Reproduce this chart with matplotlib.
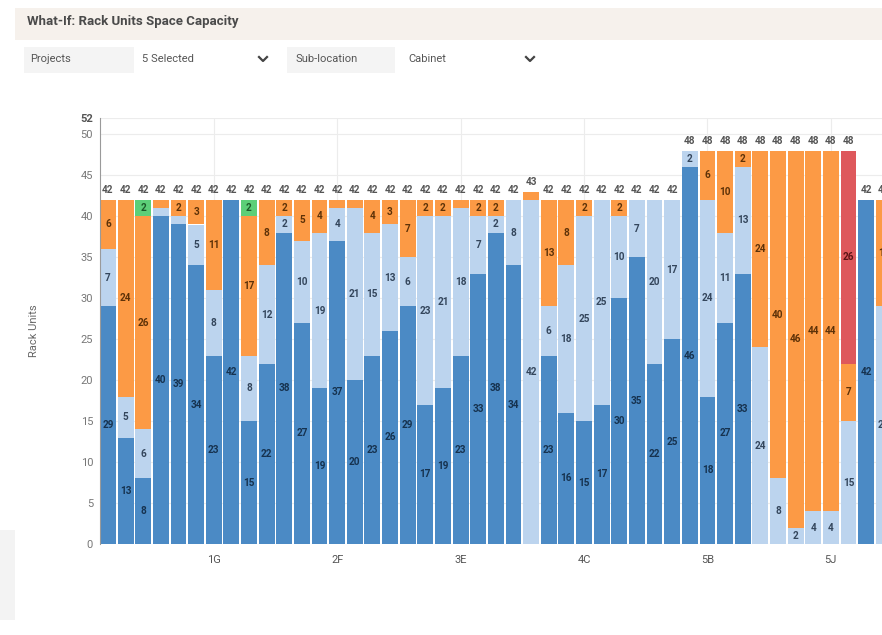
import matplotlib
matplotlib.use("Agg")
import matplotlib.pyplot as plt
import numpy as np
from matplotlib.patches import Rectangle
from matplotlib.lines import Line2D

plt.rcParams["font.family"] = ["Roboto", "DejaVu Sans"]

# racks, stacked segments (rack units)
used = [29, 13, 8, 40, 39, 34, 23, 42, 15, 22, 38, 27, 19, 37, 20, 23, 26, 29, 17, 19, 23, 33, 38,
        34, 0, 23, 16, 15, 17, 30, 35, 22, 25, 46, 18, 27, 33, 0, 0, 0, 0, 0, 0, 42, 0]
free = [7, 5, 6, 1, 1, 5, 8, 0, 8, 12, 2, 10, 19, 4, 21, 15, 13, 6, 23, 21, 18, 7, 2,
        8, 42, 6, 18, 25, 25, 10, 7, 20, 17, 2, 24, 11, 13, 24, 8, 2, 4, 4, 15, 0, 29]
planned = [6, 24, 26, 1, 2, 3, 11, 0, 17, 8, 2, 5, 4, 1, 1, 4, 3, 7, 2, 2, 1, 2, 2,
           0, 1, 13, 8, 2, 0, 2, 0, 0, 0, 0, 6, 10, 2, 24, 40, 46, 44, 44, 7, 0, 13]
reserved = [0, 0, 2, 0, 0, 0, 0, 0, 2] + [0] * 36
over = [0] * 42 + [26, 0, 0]

locations = ["1G", "2F", "3E", "4C", "5B", "5J"]
location_rack = [6, 13, 20, 27, 34, 41]
yticks = [0, 5, 10, 15, 20, 25, 30, 35, 40, 45, 50, 52]

series = [
    (used, "#4b8ac5", "#16324f"),
    (free, "#bcd4ee", "#34465c"),
    (planned, "#fc9a45", "#5e3208"),
    (reserved, "#5ccf78", "#1c5a29"),
    (over, "#de585c", "#5c1416"),
]

fig = plt.figure(figsize=(8.82, 6.35), dpi=100)
fig.patch.set_facecolor("white")

# header band and filter row
fig.patches.append(Rectangle((15 / 882, 1 - 40 / 635), 867 / 882, 32 / 635,
                             transform=fig.transFigure, facecolor="#f6f1ec", edgecolor="none"))
fig.text(27 / 882, 1 - 22 / 635, "What-If: Rack Units Space Capacity", fontsize=9.5,
         fontweight="bold", color="#4a4a4a", va="center")
fig.patches.append(Rectangle((24 / 882, 1 - 73 / 635), 110 / 882, 26 / 635,
                             transform=fig.transFigure, facecolor="#f4f4f4", edgecolor="none"))
fig.patches.append(Rectangle((287 / 882, 1 - 73 / 635), 108 / 882, 26 / 635,
                             transform=fig.transFigure, facecolor="#f4f4f4", edgecolor="none"))
for x, s in [(30, "Projects"), (142, "5 Selected"), (295, "Sub-location"), (408, "Cabinet")]:
    fig.text(x / 882, 1 - 59 / 635, s, fontsize=8, color="#555555", va="center")
for cx in [263, 530]:
    fig.add_artist(Line2D([(cx - 4) / 882, cx / 882, (cx + 4) / 882],
                          [1 - 57 / 635, 1 - 61 / 635, 1 - 57 / 635],
                          transform=fig.transFigure, color="#444444", lw=1.6))
fig.patches.append(Rectangle((0, 15 / 635), 15 / 882, 90 / 635,
                             transform=fig.transFigure, facecolor="#f3f3f3", edgecolor="none"))

ax = fig.add_axes([100 / 882, 91 / 635, 782 / 882, 426 / 635])
x = np.arange(len(used))
bottom = np.zeros(len(used))
for vals, col, tcol in series:
    vals = np.array(vals, dtype=float)
    ax.bar(x, vals, 0.9, bottom=bottom, color=col, zorder=2)
    for i, v in enumerate(vals):
        if v >= 2:
            ax.text(x[i], bottom[i] + v / 2, f"{int(v)}", ha="center", va="center",
                    fontsize=7.2, fontweight="bold", color=tcol, zorder=3)
    bottom += vals

for i, t in enumerate(bottom):
    ax.text(x[i], t + 0.6, f"{int(t)}", ha="center", va="bottom", fontsize=7.2,
            fontweight="bold", color="#555555", zorder=3)

ax.set_xlim(-0.45, 43.9)
ax.set_ylim(0, 52)
ax.set_xticks(location_rack)
ax.set_xticklabels(locations, fontsize=8, color="#555555")
ax.set_yticks(yticks)
ax.set_yticklabels([str(v) for v in yticks], fontsize=8, color="#777777")
ax.get_yticklabels()[-1].set_fontweight("bold")
ax.get_yticklabels()[-1].set_color("#555555")
ax.tick_params(length=0, pad=5)
ax.tick_params(axis="x", pad=8)
ax.grid(True, color="#ececec", lw=0.8, zorder=0)
ax.set_axisbelow(True)
for s in ["top", "right", "bottom"]:
    ax.spines[s].set_visible(False)
ax.spines["left"].set_color("#9a9a9a")
ax.set_ylabel("Rack Units", fontsize=8, color="#666666", labelpad=30)

fig.savefig("out.png", dpi=100)
